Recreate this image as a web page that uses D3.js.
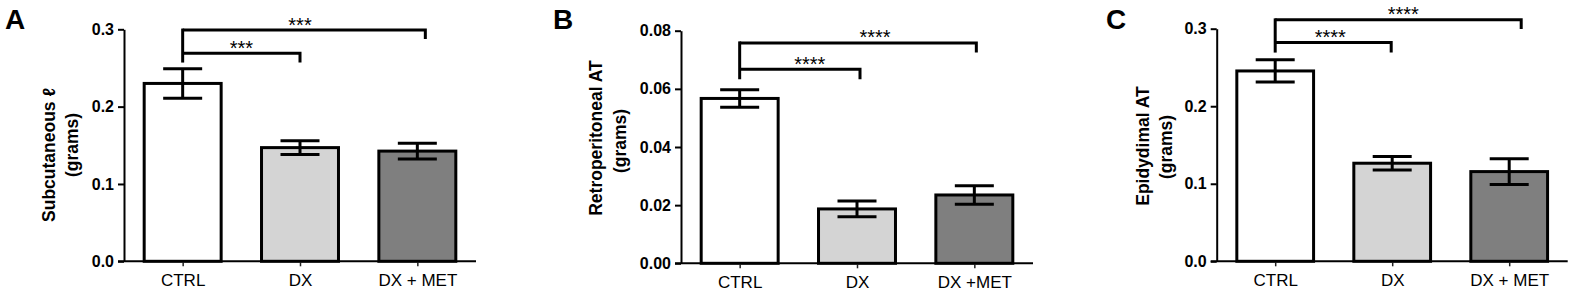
<!DOCTYPE html>
<html>
<head>
<meta charset="utf-8">
<script src="https://cdn.jsdelivr.net/npm/d3@7"></script>
<style>
  html, body { margin: 0; padding: 0; background: #fff; }
  svg { display: block; }
  text { font-family: "Liberation Sans", Arial, sans-serif; fill: #000; }
</style>
</head>
<body>
<svg id="chart" width="1575" height="294"></svg>
<script>
// ---------------- DATA ----------------
const categoriesA = ["CTRL", "DX", "DX + MET"];
const meansA = [0.230, 0.147, 0.1425];
const semA = [0.019, 0.009, 0.0103];
const ticksA = [0, 0.1, 0.2, 0.3];
const sigA = ["***", "***"];
const yLabelA = ["Subcutaneous \u2113", "(grams)"];

const categoriesB = ["CTRL", "DX", "DX +MET"];
const meansB = [0.0567, 0.0187, 0.0235];
const semB = [0.0030, 0.0027, 0.0032];
const ticksB = [0, 0.02, 0.04, 0.06, 0.08];
const sigB = ["****", "****"];
const yLabelB = ["Retroperitoneal AT", "(grams)"];

const categoriesC = ["CTRL", "DX", "DX + MET"];
const meansC = [0.2455, 0.1265, 0.1157];
const semC = [0.0143, 0.0086, 0.0165];
const ticksC = [0, 0.1, 0.2, 0.3];
const sigC = ["****", "****"];
const yLabelC = ["Epidydimal AT", "(grams)"];

const barColors = ["#ffffff", "#d4d4d4", "#7f7f7f"];

// ---------------- LAYOUT ----------------
const panels = [
  { letter: "A", cats: categoriesA, means: meansA, sems: semA, ticks: ticksA, fmt: ".1f", sig: sigA, ylab: yLabelA,
    axisX: 124, axisRight: 476, y0: 261.3, yTop: 29.3, letterX: 5,
    labX: [55, 78], labY: [155, 145],
    br: [ // lower (CTRL-DX), upper (CTRL-DX+MET)
      { to: 1, y: 0.269, leg: 0.257, rdx: 0, sdx: 0 },
      { to: 2, y: 0.299, leg: 0.2875, rdx: 8, sdx: -4 } ] },
  { letter: "B", cats: categoriesB, means: meansB, sems: semB, ticks: ticksB, fmt: ".2f", sig: sigB, ylab: yLabelB,
    axisX: 681, axisRight: 1033, y0: 263.3, yTop: 30.7, letterX: 553,
    labX: [601.5, 625.5], labY: [138, 141],
    br: [
      { to: 1, y: 0.0667, leg: 0.0633, rdx: 3, sdx: 10 },
      { to: 2, y: 0.0758, leg: 0.0725, rdx: 2, sdx: 17 } ] },
  { letter: "C", cats: categoriesC, means: meansC, sems: semC, ticks: ticksC, fmt: ".1f", sig: sigC, ylab: yLabelC,
    axisX: 1216.7, axisRight: 1567.7, y0: 261.3, yTop: 28.7, letterX: 1106,
    labX: [1149, 1172], labY: [146, 147],
    br: [
      { to: 1, y: 0.2821, leg: 0.2692, rdx: -1, sdx: -3 },
      { to: 2, y: 0.3114, leg: 0.2997, rdx: 12, sdx: 5 } ] }
];

const svg = d3.select("#chart");

panels.forEach(p => {
  const g = svg.append("g");
  const yMax = p.ticks[p.ticks.length - 1];
  const y = d3.scaleLinear().domain([0, yMax]).range([p.y0, p.yTop]);
  const x = d3.scaleBand().domain(p.cats).range([p.axisX, p.axisRight])
    .paddingInner(0.344).paddingOuter(0.172);
  const bw = x.bandwidth();

  // bars
  g.selectAll("rect.bar").data(p.cats).enter().append("rect")
    .attr("x", d => x(d))
    .attr("y", (d, i) => y(p.means[i]))
    .attr("width", bw)
    .attr("height", (d, i) => y(0) - y(p.means[i]))
    .attr("fill", (d, i) => barColors[i])
    .attr("stroke", "#000").attr("stroke-width", 3);

  // error bars
  const capW = 39;
  p.cats.forEach((c, i) => {
    const cx = x(c) + bw / 2;
    const hi = y(p.means[i] + p.sems[i]), lo = y(p.means[i] - p.sems[i]);
    g.append("line").attr("x1", cx).attr("x2", cx).attr("y1", hi).attr("y2", lo)
      .attr("stroke", "#000").attr("stroke-width", 3);
    [hi, lo].forEach(yy => g.append("line")
      .attr("x1", cx - capW / 2).attr("x2", cx + capW / 2).attr("y1", yy).attr("y2", yy)
      .attr("stroke", "#000").attr("stroke-width", 3));
  });

  // y axis
  const ya = g.append("g").attr("transform", `translate(${p.axisX},0)`)
    .call(d3.axisLeft(y).tickValues(p.ticks).tickFormat(d3.format(p.fmt))
      .tickSize(6).tickSizeOuter(0).tickPadding(4));
  ya.select(".domain").attr("stroke", "#000").attr("stroke-width", 2);
  ya.selectAll(".tick line").attr("stroke", "#000").attr("stroke-width", 2);
  ya.selectAll(".tick text").attr("font-size", 16).attr("font-weight", "bold")
    .attr("font-family", "Liberation Sans, Arial, sans-serif").attr("fill", "#000");

  // x axis
  const xa = g.append("g").attr("transform", `translate(0,${p.y0})`)
    .call(d3.axisBottom(d3.scalePoint().domain(p.cats)
        .range([x(p.cats[0]) + bw / 2, x(p.cats[2]) + bw / 2]))
      .tickSize(5).tickSizeOuter(0).tickPadding(8));
  xa.select(".domain").remove();
  xa.selectAll(".tick line").attr("stroke", "#222").attr("stroke-width", 1.5);
  xa.selectAll(".tick text").attr("font-size", 17).attr("font-weight", "normal")
    .attr("font-family", "Liberation Sans, Arial, sans-serif").attr("fill", "#000");
  g.append("line").attr("x1", p.axisX - 6).attr("x2", p.axisRight)
    .attr("y1", p.y0).attr("y2", p.y0).attr("stroke", "#000").attr("stroke-width", 2);

  // y label
  p.ylab.forEach((t, i) => {
    g.append("text")
      .attr("transform", `translate(${p.labX[i]},${p.labY[i]}) rotate(-90)`)
      .attr("text-anchor", "middle").attr("font-size", 17.5).attr("font-weight", "bold")
      .text(t);
  });

  // panel letter
  g.append("text").attr("x", p.letterX).attr("y", 28.5)
    .attr("font-size", 28).attr("font-weight", "bold").text(p.letter);

  // significance brackets
  const x0 = x(p.cats[0]) + bw / 2;
  const lowest = Math.min(...p.br.map(b => b.leg));
  p.br.forEach((b, k) => {
    const xr = x(p.cats[b.to]) + bw / 2 + b.rdx;
    g.append("path")
      .attr("d", `M${xr},${y(b.leg)} V${y(b.y)} H${x0}`)
      .attr("fill", "none").attr("stroke", "#000").attr("stroke-width", 3);
    g.append("text").attr("x", (x0 + xr) / 2 + b.sdx).attr("y", y(b.y) - 10 + 11.5)
      .attr("text-anchor", "middle").attr("font-size", 20).text(p.sig[k]);
  });
  const topB = Math.max(...p.br.map(b => b.y));
  g.append("line").attr("x1", x0).attr("x2", x0).attr("y1", y(topB) - 1.5).attr("y2", y(lowest))
    .attr("stroke", "#000").attr("stroke-width", 3);
});
</script>
</body>
</html>
